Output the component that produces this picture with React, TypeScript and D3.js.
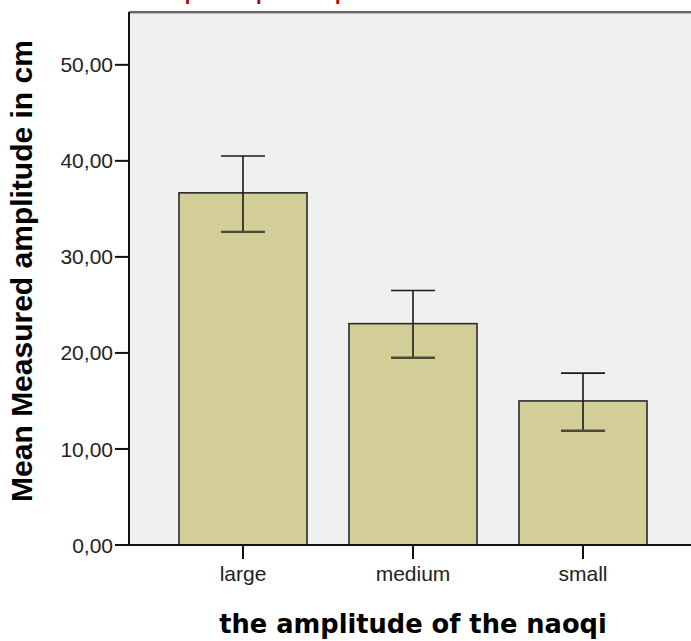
import React from "react";
import * as d3 from "d3";

// Mean measured amplitude per naoqi amplitude group, with 95% CI whiskers
const categories = ["large", "medium", "small"];
const means = [36.67, 23.05, 15.0];
const ciLow = [32.6, 19.5, 11.9];
const ciHigh = [40.5, 26.5, 17.9];
const yTicks = [0, 10, 20, 30, 40, 50];

const W = 691;
const H = 641;
const plot = { left: 129, right: 697, top: 12, bottom: 545 };

const fmt = (v: number) => v.toFixed(2).replace(".", ",");

export default function App() {
  const x = d3
    .scaleBand<string>()
    .domain(categories)
    .range([plot.left, plot.right])
    .paddingInner(0.247)
    .paddingOuter(0.294);
  const y = d3.scaleLinear().domain([0, 55.5]).range([plot.bottom, plot.top]);

  const bw = x.bandwidth();
  const capHalf = 22;

  return (
    <svg
      width={W}
      height={H}
      viewBox={`0 0 ${W} ${H}`}
      style={{ position: "absolute", left: 0, top: 0, background: "#fff" }}
    >
      {/* title, mostly above the visible area */}
      <text
        x={57}
        y={0}
        fill="#b00000"
        fontFamily="Liberation Sans, Arial, sans-serif"
        fontWeight="bold"
        fontSize={20}
      >
        Measured amplitude per naoqi
      </text>

      {/* plot area */}
      <rect
        x={plot.left}
        y={plot.top}
        width={plot.right - plot.left}
        height={plot.bottom - plot.top}
        fill="#f0f0f0"
      />
      <line x1={plot.left} x2={W} y1={plot.top} y2={plot.top} stroke="#666" strokeWidth={2} />
      <line x1={plot.left} x2={W} y1={plot.top + 1.5} y2={plot.top + 1.5} stroke="#bbb" strokeWidth={1} />

      {/* bars */}
      {categories.map((c, i) => (
        <rect
          key={c}
          x={x(c)!}
          y={y(means[i])}
          width={bw}
          height={plot.bottom - y(means[i])}
          fill="#d3ce97"
          stroke="#2a2a2a"
          strokeWidth={1.6}
        />
      ))}

      {/* error bars */}
      {categories.map((c, i) => {
        const cx = x(c)! + bw / 2;
        return (
          <g key={c} stroke="#1a1a1a" strokeWidth={1.6}>
            <line x1={cx} x2={cx} y1={y(ciHigh[i])} y2={y(ciLow[i])} />
            <line x1={cx - capHalf} x2={cx + capHalf} y1={y(ciHigh[i])} y2={y(ciHigh[i])} />
            <line
              x1={cx - capHalf}
              x2={cx + capHalf}
              y1={y(ciLow[i])}
              y2={y(ciLow[i])}
              stroke="#4a4a38"
              strokeWidth={2.4}
            />
          </g>
        );
      })}

      {/* axes */}
      <line x1={plot.left} x2={plot.left} y1={plot.top} y2={plot.bottom + 1} stroke="#111" strokeWidth={2} />
      <line x1={plot.left} x2={W} y1={plot.bottom} y2={plot.bottom} stroke="#111" strokeWidth={2} />

      {yTicks.map((t) => (
        <g key={t}>
          <line x1={plot.left - 14} x2={plot.left} y1={y(t)} y2={y(t)} stroke="#111" strokeWidth={2} />
          <text
            x={plot.left - 16}
            y={y(t)}
            dy="0.36em"
            textAnchor="end"
            fontFamily="Liberation Sans, Arial, sans-serif"
            fontSize={21}
            fill="#222"
          >
            {fmt(t)}
          </text>
        </g>
      ))}

      {categories.map((c) => {
        const cx = x(c)! + bw / 2;
        return (
          <g key={c}>
            <line x1={cx} x2={cx} y1={plot.bottom} y2={plot.bottom + 14} stroke="#111" strokeWidth={2} />
            <text
              x={cx}
              y={581}
              textAnchor="middle"
              fontFamily="Liberation Sans, Arial, sans-serif"
              fontSize={21}
              fill="#222"
            >
              {c}
            </text>
          </g>
        );
      })}

      {/* axis titles */}
      <text
        x={413}
        y={633}
        textAnchor="middle"
        fontFamily="DejaVu Sans, Verdana, sans-serif"
        fontWeight="bold"
        fontSize={25.7}
        fill="#000"
      >
        the amplitude of the naoqi
      </text>
      <text
        transform={`translate(32, 271) rotate(-90)`}
        textAnchor="middle"
        fontFamily="Liberation Sans, Arial, sans-serif"
        fontWeight="bold"
        fontSize={30}
        fill="#000"
      >
        Mean Measured amplitude in cm
      </text>
    </svg>
  );
}
